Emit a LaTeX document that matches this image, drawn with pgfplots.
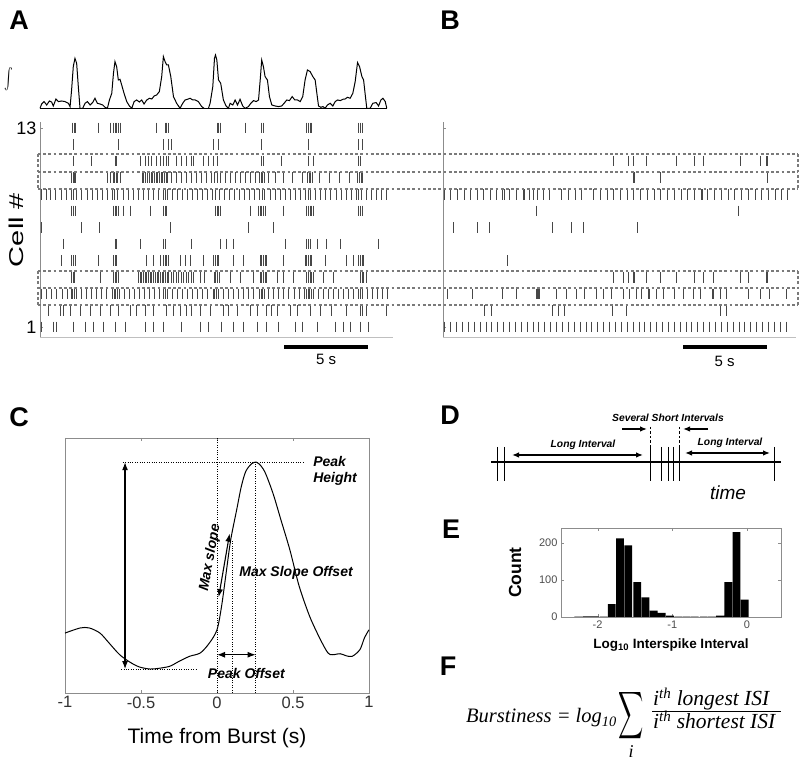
\documentclass[border=0pt]{standalone}
\usepackage{pgfplots}
\pgfplotsset{compat=1.18}
\usepackage{fontspec}
\setmainfont{Liberation Sans}
\newfontfamily\tnr{Liberation Serif}
\usetikzlibrary{arrows.meta}
\definecolor{boxgray}{HTML}{7A7A7A}
\definecolor{axgray}{HTML}{8C8C8C}
\newcommand{\fs}[1]{\fontsize{#1}{#1}\selectfont}
\pgfplotsset{
  raster/.style={scale only axis, anchor=south west, width=353pt, height=215pt,
    xmin=0, xmax=21, ymin=0.4, ymax=13.36, clip=false,
    axis lines*=left, xtick=\empty, ytick={1,13},
    y axis line style={axgray, line width=0.7pt},
    x axis line style={black!25, line width=0.6pt},
    tick style={axgray}, major tick length=3pt, tick align=inside,
    yticklabel style={font=\fs{18}, black}},
  spk/.style={black!72, only marks, mark=|, mark size=5.3pt, mark options={line width=0.65pt}},
  /pgf/number format/assume math mode=true
}
\newcommand{\row}[2]{\addplot[spk] table[header=false, x index=0, y expr=#1, row sep=\\] {#2};}
\begin{document}
\begin{tikzpicture}[x=1pt,y=1pt]
\path[use as bounding box] (0,0) rectangle (810,767);

% ---------- panel letters ----------
\node[font=\bfseries\fs{27}] at (19,747) {A};
\node[font=\bfseries\fs{27}] at (450,747) {B};
\node[font=\bfseries\fs{27}] at (19,350) {C};
\node[font=\bfseries\fs{27}] at (450,352) {D};
\node[font=\bfseries\fs{27}] at (451,238) {E};
\node[font=\bfseries\fs{27}] at (448,101) {F};

% ---------- A: integrated trace ----------
\node at (9,688) {\scalebox{1.3}[2.1]{$\int$}};
\begin{axis}[scale only axis, anchor=south west, at={(40pt,658.7pt)}, width=353pt, height=53.3pt,
  xmin=0, xmax=21, ymin=0, ymax=53.3, axis lines=none, clip=false]
\addplot[black, line width=1pt] coordinates {(0,0)(20.65,0)};
\addplot[black, line width=1pt] coordinates {
(0,0)(0.10,4.3)(0.24,6.7)(0.40,3.3)(0.56,7.3)(0.69,6.3)(0.79,2.3)(0.95,9.3)(1.09,6.7)(1.29,7.3)(1.49,6.7)(1.69,5)(1.79,1.7)
(1.88,18.3)(1.98,41.7)(2.08,50)(2.18,45)(2.28,21.7)(2.38,0)(2.54,0)(2.68,5)(2.82,6.7)(2.98,3.3)(3.13,5.7)(3.27,10)(3.41,5)
(3.57,4.3)(3.73,3.3)(3.87,1)(4.01,0)(4.13,8.3)(4.27,15)(4.37,35)(4.46,46.7)(4.56,41.7)(4.66,28.3)(4.76,29)(4.86,23.3)(5.00,15)
(5.16,6.7)(5.32,2.3)(5.46,0)(5.60,6.7)(5.75,8.3)(5.91,6.3)(6.05,8.3)(6.19,4.3)(6.35,8.3)(6.51,10)(6.65,9.3)(6.79,12.3)(6.94,13.3)
(7.10,16.7)(7.24,31.7)(7.34,51.7)(7.44,46.7)(7.54,43.3)(7.64,43.3)(7.78,31.7)(7.94,11.7)(8.13,5)(8.33,0)(8.49,5)(8.63,8.3)(8.77,9)
(8.93,10)(9.09,8.3)(9.23,8.3)(9.42,6.7)(9.62,1.7)(9.76,0)};
\addplot[black, line width=1pt] coordinates {
(10.02,0)(10.12,5)(10.28,21.7)(10.38,50)(10.44,53.3)(10.52,48.3)(10.62,28.3)(10.75,25)(10.91,8.3)(11.07,2.3)(11.21,0)(11.31,5)
(11.47,3.3)(11.61,8.3)(11.75,3.3)(11.90,9)(12.06,2.3)(12.20,0)(12.40,1.7)(12.54,5)(12.70,7.7)(12.86,6.7)(13.00,8.3)(13.10,28.3)
(13.19,48.3)(13.29,41.7)(13.39,31.7)(13.53,28.3)(13.65,11.7)(13.79,3.3)(13.99,2.3)(14.19,1.7)(14.38,2.3)(14.52,5)(14.68,8.3)
(14.84,7.7)(15.00,11.7)(15.16,8.3)(15.32,8.3)(15.48,6.7)(15.63,11.7)(15.77,28.3)(15.91,38.3)(16.07,36.7)(16.23,31.7)(16.37,28.3)
(16.47,15)(16.57,2.3)(16.71,1)(16.83,1.7)(16.96,0)(17.10,3.3)(17.26,5)(17.42,2.3)(17.56,6.7)(17.70,8.3)(17.86,7.7)(18.02,9)
(18.15,9.3)(18.29,11)(18.45,10)(18.61,15)(18.75,26.7)(18.89,45.7)(19.01,41.7)(19.15,31.7)(19.25,28.3)(19.35,13.3)(19.44,0)
(19.64,0)(19.80,5)(20.00,5.7)(20.14,2.3)(20.28,8.3)(20.40,10)(20.54,6.7)(20.63,0)};
\end{axis}

% ---------- A: raster ----------
\node[rotate=90, font=\fs{20}, xscale=1.45] at (16,537) {Cell \#};
\begin{axis}[raster, at={(40pt,430pt)}, yticklabels={1,13}]
\row{13}{1.94\\2.02\\2.10\\3.47\\4.17\\4.37\\4.46\\4.56\\4.66\\4.76\\6.94\\7.44\\7.54\\7.64\\10.52\\10.62\\10.71\\12.20\\13.19\\13.29\\15.87\\15.97\\16.07\\16.17\\18.95\\19.05\\19.15\\}
\row{12}{1.98\\4.66\\7.34\\7.64\\7.84\\10.32\\10.62\\13.19\\15.97\\18.95\\19.15\\}
\row{11}{1.98\\3.08\\4.46\\4.56\\5.95\\6.25\\6.45\\6.65\\6.94\\7.14\\7.34\\7.54\\7.64\\8.13\\8.43\\8.73\\9.03\\9.13\\9.72\\10.02\\10.32\\10.52\\13.19\\13.29\\14.38\\15.97\\16.27\\18.95\\19.05\\}
\row{10}{1.88\\1.96\\2.04\\2.12\\4.00\\4.20\\4.36\\4.44\\4.52\\4.62\\4.76\\6.06\\6.16\\6.28\\6.40\\6.50\\6.60\\6.70\\6.80\\6.90\\7.00\\7.10\\7.20\\7.30\\7.40\\7.50\\7.60\\7.80\\8.10\\8.40\\8.70\\9.00\\9.30\\9.60\\9.90\\10.20\\10.40\\10.55\\10.70\\11.00\\11.30\\11.60\\11.90\\12.20\\12.50\\12.80\\13.05\\13.15\\13.25\\13.35\\13.60\\14.00\\14.50\\15.00\\15.60\\15.90\\16.00\\16.10\\16.20\\16.60\\17.20\\17.80\\18.40\\18.90\\19.00\\19.10\\19.20\\}
\row{9}{0.10\\0.35\\0.62\\0.90\\1.25\\1.55\\1.85\\2.00\\2.15\\2.45\\2.80\\3.10\\3.40\\3.70\\4.00\\4.30\\4.45\\4.60\\4.95\\5.25\\5.55\\5.85\\6.15\\6.45\\6.75\\7.05\\7.35\\7.45\\7.55\\7.85\\8.15\\8.45\\8.75\\9.05\\9.35\\9.65\\9.95\\10.25\\10.45\\10.65\\10.95\\11.25\\11.55\\11.85\\12.15\\12.45\\12.75\\13.05\\13.20\\13.35\\13.70\\14.00\\14.30\\14.60\\14.90\\15.20\\15.50\\15.80\\15.95\\16.10\\16.40\\16.70\\17.00\\17.30\\17.60\\17.90\\18.20\\18.50\\18.80\\18.95\\19.10\\19.40\\19.70\\20.00\\20.30\\20.60\\}
\row{8}{1.88\\1.98\\2.08\\4.37\\4.46\\4.56\\4.66\\4.96\\5.36\\6.55\\7.34\\7.44\\7.54\\10.42\\10.52\\10.62\\10.71\\12.50\\13.00\\13.10\\13.19\\13.29\\13.39\\14.48\\15.87\\15.97\\16.07\\16.17\\16.27\\18.95\\19.05\\19.15\\}
\row{7}{0.10\\2.48\\3.53\\7.74\\12.40\\13.89\\}
\row{6}{1.39\\4.46\\4.56\\5.95\\7.34\\7.44\\9.03\\10.71\\11.11\\11.51\\14.58\\15.87\\15.97\\16.07\\16.47\\17.06\\17.86\\20.14\\}
\row{5}{1.29\\1.88\\1.98\\2.08\\3.47\\4.37\\4.46\\4.56\\6.35\\6.75\\7.14\\7.34\\7.44\\7.54\\7.64\\8.33\\8.63\\8.93\\9.72\\10.32\\10.42\\10.52\\10.62\\11.51\\12.10\\13.10\\13.19\\13.29\\13.39\\13.49\\14.48\\15.77\\15.87\\15.97\\16.07\\16.17\\16.96\\18.25\\18.65\\18.95\\19.05\\19.15\\19.25\\}
\row{4}{1.88\\1.96\\2.04\\3.57\\4.37\\4.46\\4.56\\4.66\\5.85\\5.95\\6.05\\6.15\\6.25\\6.35\\6.45\\6.55\\6.65\\6.75\\6.85\\6.95\\7.05\\7.15\\7.25\\7.35\\7.45\\7.55\\7.65\\7.80\\7.95\\8.10\\8.25\\8.40\\8.55\\8.70\\8.85\\9.00\\9.15\\9.55\\9.75\\10.35\\10.45\\10.55\\10.65\\11.31\\11.90\\12.70\\13.10\\13.19\\13.29\\13.39\\13.49\\14.09\\14.48\\15.08\\15.87\\15.97\\16.07\\16.17\\16.27\\16.87\\17.46\\19.05\\19.15\\19.25\\19.44\\}
\row{3}{0.10\\0.40\\0.70\\1.00\\1.30\\1.60\\1.85\\1.95\\2.05\\2.15\\2.45\\2.75\\3.05\\3.35\\3.65\\3.95\\4.30\\4.40\\4.50\\4.60\\4.70\\5.00\\5.30\\5.60\\5.90\\6.20\\6.50\\6.80\\7.10\\7.35\\7.45\\7.55\\7.85\\8.15\\8.45\\8.75\\9.05\\9.35\\9.65\\9.95\\10.30\\10.40\\10.50\\10.60\\10.90\\11.20\\11.50\\11.80\\12.10\\12.40\\12.70\\13.05\\13.15\\13.25\\13.35\\13.60\\13.90\\14.20\\14.50\\14.80\\15.10\\15.40\\15.70\\15.85\\15.95\\16.05\\16.15\\16.25\\16.55\\16.85\\17.15\\17.45\\17.75\\18.05\\18.35\\18.65\\18.95\\19.05\\19.15\\19.45\\19.75\\20.05\\20.35\\20.65\\}
\row{2}{0.50\\1.19\\1.39\\1.79\\2.38\\2.98\\3.57\\4.17\\4.66\\5.36\\5.75\\6.25\\6.75\\7.54\\7.94\\8.33\\8.73\\9.03\\9.52\\10.12\\10.91\\11.21\\11.71\\12.50\\12.90\\13.49\\13.79\\14.09\\14.88\\15.28\\16.07\\16.67\\17.36\\18.25\\19.05\\19.15\\19.44\\20.63\\}
\row{1}{0.10\\0.79\\0.99\\1.98\\2.68\\3.17\\3.77\\4.46\\5.06\\6.25\\6.75\\7.34\\8.43\\9.52\\10.02\\10.81\\11.51\\12.10\\12.90\\13.49\\14.19\\15.18\\15.58\\16.47\\17.56\\18.06\\18.45\\19.05\\19.54\\}
\draw[black, line width=4.5pt] (axis cs:14.52,-0.2) -- (axis cs:19.52,-0.2);
\node[font=\fs{15}] at (axis cs:17.02,-0.98) {5 s};
\end{axis}

% ---------- B: raster ----------
\begin{axis}[raster, at={(443pt,430pt)}, yticklabels={}]
\row{11}{10.12\\11.05\\11.31\\12.10\\13.89\\14.98\\15.48\\17.66\\18.85\\19.25\\19.31\\}
\row{10}{11.31\\11.37\\12.90\\19.29\\}
\row{9}{0.10\\0.45\\0.85\\1.25\\1.65\\2.05\\2.40\\2.80\\3.20\\3.55\\3.65\\3.95\\4.35\\4.75\\4.85\\5.15\\5.40\\5.60\\5.95\\6.35\\7.05\\7.45\\7.85\\8.25\\8.95\\9.35\\9.75\\10.15\\10.55\\10.95\\11.35\\11.75\\12.15\\12.55\\12.95\\13.35\\13.75\\14.15\\14.55\\14.95\\15.35\\15.45\\15.75\\16.15\\16.55\\16.95\\17.35\\17.75\\18.15\\18.55\\18.95\\19.35\\19.75\\20.15\\20.50\\}
\row{8}{5.56\\17.56\\}
\row{7}{0.63\\2.02\\2.74\\6.51\\7.64\\8.33\\11.55\\}
\row{5}{3.83\\}
\row{4}{10.12\\10.71\\11.05\\11.31\\11.37\\12.10\\12.90\\13.89\\14.98\\15.48\\16.07\\17.66\\18.15\\19.25\\19.31\\}
\row{3}{0.24\\1.75\\3.53\\4.37\\5.56\\5.60\\5.65\\5.75\\6.75\\7.34\\7.94\\8.43\\9.13\\9.52\\10.02\\10.71\\11.11\\11.51\\11.81\\12.20\\12.30\\12.70\\13.10\\13.79\\14.29\\14.88\\15.28\\16.03\\16.07\\16.47\\16.87\\18.15\\18.85\\19.44\\20.44\\}
\row{2}{2.48\\2.88\\6.51\\6.85\\7.24\\10.08\\10.91\\16.47\\16.87\\}
\row{1}{0.10\\0.45\\0.80\\1.15\\1.50\\1.85\\2.20\\2.55\\2.90\\3.25\\3.60\\3.95\\4.30\\4.65\\5.00\\5.35\\5.70\\6.05\\6.40\\6.75\\7.10\\7.45\\7.80\\8.15\\8.50\\8.85\\9.20\\9.55\\9.90\\10.25\\10.60\\10.95\\11.30\\11.65\\12.00\\12.35\\12.70\\13.05\\13.40\\13.75\\14.10\\14.45\\14.80\\15.15\\15.50\\15.85\\16.20\\16.55\\16.90\\17.25\\17.60\\17.95\\18.30\\18.65\\19.00\\19.35\\19.70\\20.05\\20.40\\}
\draw[black, line width=4.5pt] (axis cs:14.29,-0.2) -- (axis cs:19.29,-0.2);
\node[font=\fs{15}] at (axis cs:16.75,-1.07) {5 s};
\end{axis}

% dotted boxes spanning A and B
\begin{scope}[boxgray, line width=2.8pt, dash pattern=on 2.8pt off 2.4pt]
\draw (38,613) -- (798,613);
\draw (38,595) -- (798,595);
\draw (38,578) -- (798,578);
\draw (38,613) -- (38,578);
\draw (798,613) -- (798,578);
\draw (38,496) -- (798,496);
\draw (38,479) -- (798,479);
\draw (38,462) -- (798,462);
\draw (38,496) -- (38,462);
\draw (798,496) -- (798,462);
\end{scope}

% ---------- C ----------
\begin{axis}[scale only axis, anchor=south west, at={(65pt,74pt)}, width=304pt, height=255pt,
  xmin=-1, xmax=1, ymin=0, ymax=1, clip=false,
  axis line style={black!45, line width=0.6pt},
  ytick=\empty, xtick={-1,-0.5,0,0.5,1}, xticklabels={-1,-0.5,0,0.5,1},
  tick style={black!45}, major tick length=3pt, tick align=inside,
  xticklabel style={font=\fs{16.5}, black!80},
  xlabel={Time from Burst (s)}, xlabel style={font=\fs{21}, at={(axis description cs:0.5,-0.176)}, anchor=center}]
\addplot[black, line width=1pt, smooth, tension=0.5] coordinates {
(-1,0.235)(-0.90,0.255)(-0.84,0.255)(-0.77,0.235)(-0.71,0.196)(-0.64,0.150)(-0.57,0.120)(-0.51,0.102)(-0.44,0.094)
(-0.38,0.097)(-0.31,0.105)(-0.25,0.124)(-0.18,0.144)(-0.11,0.157)(-0.05,0.196)(0.0,0.248)(0.03,0.34)(0.06,0.47)(0.09,0.60)
(0.13,0.72)(0.16,0.81)(0.19,0.87)(0.23,0.90)(0.26,0.905)(0.29,0.89)(0.32,0.86)(0.37,0.78)(0.42,0.68)(0.48,0.56)(0.54,0.42)
(0.61,0.30)(0.68,0.21)(0.73,0.157)(0.76,0.150)(0.81,0.154)(0.85,0.146)(0.89,0.144)(0.94,0.170)(0.97,0.216)(1.0,0.248)};
\begin{scope}[black, line width=0.6pt, dash pattern=on 0.9pt off 1.5pt]
\draw (axis cs:-0.62,0.905) -- (axis cs:0.577,0.905);
\draw (axis cs:-0.63,0.094) -- (axis cs:-0.136,0.094);
\draw (axis cs:0,0) -- (axis cs:0,1);
\draw (axis cs:0.1,0) -- (axis cs:0.1,0.60);
\draw (axis cs:0.254,0) -- (axis cs:0.254,0.905);
\end{scope}
\draw[{Latex[length=8pt,width=6pt]}-{Latex[length=8pt,width=6pt]}, line width=1.1pt] (axis cs:-0.605,0.905) -- (axis cs:-0.605,0.094);
\draw[{Latex[length=8pt,width=6pt]}-{Latex[length=8pt,width=6pt]}, line width=1.1pt] (axis cs:0,0.15) -- (axis cs:0.254,0.15);
\draw[{Latex[length=8pt,width=6pt]}-{Latex[length=8pt,width=6pt]}, line width=1.1pt] (axis cs:0.083,0.625) -- (axis cs:0.011,0.376);
\node[font=\bfseries\itshape\fs{14}, rotate=80, inner sep=1pt] at (axis cs:-0.045,0.53) {Max slope};
\node[font=\bfseries\itshape\fs{14}] at (axis cs:0.52,0.47) {Max Slope Offset};
\node[font=\bfseries\itshape\fs{14}] at (axis cs:0.193,0.078) {Peak Offset};
\node[font=\bfseries\itshape\fs{14}, anchor=west, align=left] at (axis cs:0.61,0.873) {Peak\\[2pt]Height};
\end{axis}

% ---------- D ----------
\draw[line width=1.6pt] (491,305) -- (781,305);
\foreach \xx in {497,504,650,661,668,673,679,774} {\draw[line width=1pt] (\xx,320) -- (\xx,286);}
\draw[line width=0.7pt, dash pattern=on 2.5pt off 2pt] (650,340) -- (650,320);
\draw[line width=0.7pt, dash pattern=on 2.5pt off 2pt] (679,340) -- (679,320);
\draw[{Latex[length=7pt,width=5.5pt]}-{Latex[length=7pt,width=5.5pt]}, line width=1.3pt] (512,312) -- (643,312);
\draw[{Latex[length=7pt,width=5.5pt]}-{Latex[length=7pt,width=5.5pt]}, line width=1.3pt] (685,314) -- (770,314);
\draw[-{Latex[length=7pt,width=5.5pt]}, line width=1.3pt] (622,338) -- (647,338);
\draw[-{Latex[length=7pt,width=5.5pt]}, line width=1.3pt] (708,338) -- (683,338);
\node[font=\bfseries\itshape\fs{10.3}] at (583,322) {Long Interval};
\node[font=\bfseries\itshape\fs{10.3}] at (730,324) {Long Interval};
\node[font=\bfseries\itshape\fs{10.3}] at (668,349) {Several Short Intervals};
\node[font=\itshape\fs{19}] at (728,274) {time};

% ---------- E ----------
\begin{axis}[scale only axis, anchor=south west, at={(561pt,150pt)}, width=220pt, height=89pt,
  xmin=-2.49, xmax=0.455, ymin=0, ymax=240,
  axis line style={black!45, line width=0.6pt},
  xtick={-2,-1,0}, xticklabels={-2,-1,0}, ytick={0,100,200},
  tick style={black!45}, major tick length=3pt, tick align=inside,
  tick label style={font=\fs{11}, black!70},
  xlabel={Log\textsubscript{10} Interspike Interval}, xlabel style={font=\bfseries\fs{13.5}, at={(axis description cs:0.5,-0.315)}, anchor=center},
  ylabel={Count}, ylabel style={font=\bfseries\fs{17.5}, at={(axis description cs:-0.209,0.5)}, anchor=center, rotate=0}]
\addplot[ybar, bar width=0.104, fill=black, draw=none] coordinates {
(-2.26,1)(-2.15,2)(-2.04,2)(-1.92,1)(-1.81,35)(-1.70,212)(-1.59,193)(-1.47,94)(-1.36,53)(-1.25,17)(-1.14,11)(-1.03,4)
(-0.92,1)(-0.81,1)(-0.70,1)(-0.58,1)(-0.47,1)(-0.36,4)(-0.25,94)(-0.14,229)(-0.03,47)};
\end{axis}

% ---------- F ----------
\node[anchor=base west, font=\tnr\itshape\fs{20.5}, inner sep=0pt] at (466,44) {Burstiness = log\textsubscript{10}};
\node[inner sep=0pt] at (631,51) {\scalebox{1.75}[3.3]{$\displaystyle\sum$}};
\node[font=\tnr\itshape\fs{18}] at (631,15) {i};
\node[anchor=base west, font=\tnr\itshape\fs{21.5}, inner sep=0pt] at (653,61) {i\textsuperscript{th} longest ISI};
\draw[line width=0.9pt] (652,56) -- (781,56);
\node[anchor=base west, font=\tnr\itshape\fs{21.5}, inner sep=0pt] at (653,38) {i\textsuperscript{th} shortest ISI};
\end{tikzpicture}
\end{document}
